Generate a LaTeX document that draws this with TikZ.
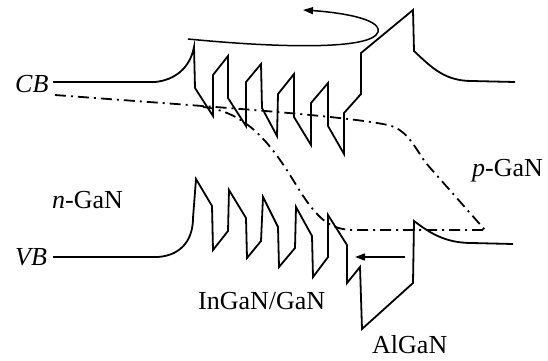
\documentclass[tikz,border=0pt]{standalone}
\usepackage{fontspec}
\setmainfont{Liberation Serif}
\usetikzlibrary{arrows.meta}
\begin{document}
\begin{tikzpicture}[x=1pt,y=-1pt,
  band/.style={line width=1.8pt,line join=miter},
  qfl/.style={line width=1.8pt,dash pattern=on 11pt off 5pt on 2pt off 5pt},
  lbl/.style={inner sep=0pt,anchor=base west,font=\fontsize{26pt}{30pt}\selectfont},
  arr/.style={line width=1.5pt,-{Triangle[length=10pt,width=7pt]}}]
\useasboundingbox (0,0) rectangle (548,360);
% conduction band
\draw[band] (53,82) -- (155,82) .. controls (175,80) and (190,68) .. (194,47)
  -- (195,88) -- (213,116) -- (213,75) -- (228,56) -- (228,98) -- (246,126)
  -- (246,82) -- (261,64) -- (262,108) -- (277,136) -- (278,94) -- (294,74)
  -- (294,117) -- (311,145) -- (311,103) -- (328,83) -- (328,126) -- (344,154)
  -- (344,113) -- (361,94) -- (361,53) -- (413,10) -- (414,51)
  .. controls (432,68) and (445,81) .. (472,81) -- (515,82);
% valence band
\draw[band] (53,257) -- (158,257) .. controls (183,255) and (193,238) .. (193,218)
  -- (196,179) -- (212,206) -- (213,250) -- (228,231) -- (229,190) -- (246,218)
  -- (247,258) -- (261,241) -- (263,197) -- (278,227) -- (279,267) -- (295,248)
  -- (296,207) -- (312,236) -- (313,277) -- (328,257) -- (328,215) -- (347,245)
  -- (347,283) -- (360,267) -- (362,329) -- (413,283) -- (414,221)
  .. controls (430,233) and (445,243) .. (472,243) -- (513,244);
% quasi Fermi levels
\draw[qfl] (55,95) .. controls (200,106) and (340,115) .. (388,125)
  .. controls (405,129) and (412,142) .. (425,162) -- (485,230);
\draw[qfl] (203,107) .. controls (250,112) and (275,150) .. (298,188)
  .. controls (318,220) and (330,229) .. (352,230) -- (485,230);
% arrows
\draw[arr] (188,39) .. controls (280,48) and (372,50) .. (378,32)
  .. controls (382,18) and (335,12) .. (303,10);
\draw[arr] (405,257) -- (355,257);
% labels
\node[lbl] (cb) at (15,92) {\textit{CB}};
\node[lbl] (vb) at (15,265) {\textit{VB}};
\node[lbl] (ngan) at (52,208) {\textit{n}-GaN};
\node[lbl] (pgan) at (472,176) {\textit{p}-GaN};
\node[lbl] (ingan) at (198,309) {InGaN/GaN};
\node[lbl] (algan) at (372,353) {AlGaN};
\end{tikzpicture}
\end{document}
